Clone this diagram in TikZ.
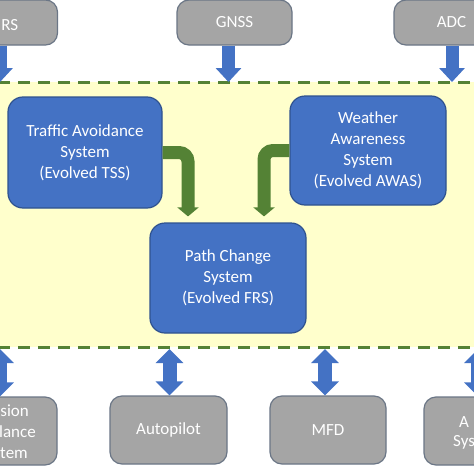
\documentclass[tikz,border=0pt]{standalone}
\usepackage{fontspec}
\setmainfont{Carlito}
\usetikzlibrary{arrows.meta}
\definecolor{boxblue}{HTML}{4472C4}
\definecolor{boxblueb}{HTML}{2F528F}
\definecolor{boxgray}{HTML}{A5A5A5}
\definecolor{boxgrayb}{HTML}{6B7686}
\definecolor{bgyellow}{HTML}{FFFFCC}
\definecolor{dashgreen}{HTML}{548235}
\definecolor{arrgreen}{HTML}{548235}
\begin{document}
\begin{tikzpicture}[x=1pt,y=-1pt,
 txt/.style={text=white,font=\fontsize{17}{21}\selectfont,align=center},
 bluebox/.style={txt,fill=boxblue,draw=boxblueb,line width=1.2pt,rounded corners=15pt,inner sep=0pt},
 graybox/.style={txt,fill=boxgray,draw=boxgrayb,line width=1.2pt,rounded corners=12pt,inner sep=0pt},
 frag/.style={text=white,font=\fontsize{17}{21}\selectfont,inner sep=0pt},
 bus/.style={dashgreen,line width=3pt,dash pattern=on 12pt off 8pt},
 garrow/.style={arrgreen,line width=13pt,rounded corners=9pt,-{Triangle[width=21pt,length=9pt]}},
 barrow/.style={boxblue,line width=13pt,-{Triangle[width=25pt,length=14pt]}},
 darrow/.style={boxblue,line width=14pt,{Triangle[width=27pt,length=14pt]}-{Triangle[width=27pt,length=14pt]}},
]
\useasboundingbox (0,0) rectangle (474,474);
\clip (0,0) rectangle (474,474);
\fill[white] (0,0) rectangle (474,474);
\fill[bgyellow] (0,82) rectangle (474,347);
\draw[bus] (-2,82) -- (478,82);
\draw[bus] (-2,347) -- (478,347);

% top boxes
\node[graybox,minimum width=115pt,minimum height=45pt] (ahrs) at (0,22.5) {};
\node[frag,anchor=east] (ahrst) at (18.5,25) {RS};
\node[graybox,minimum width=115pt,minimum height=45pt] (gnss) at (234.5,22.5) {GNSS};
\node[graybox,minimum width=115pt,minimum height=45pt] (adc) at (451.5,22.5) {ADC};

% main blue boxes
\node[bluebox,minimum width=154pt,minimum height=111pt] (tas) at (85,152.5) {Traffic Avoidance\\System\\(Evolved TSS)};
\node[bluebox,minimum width=156pt,minimum height=109pt] (was) at (368,150.5) {Weather\\Awareness\\System\\(Evolved AWAS)};
\node[bluebox,minimum width=156pt,minimum height=110pt] (pcs) at (228,278) {Path Change\\System\\(Evolved FRS)};

% bottom boxes
\node[graybox,minimum width=117pt,minimum height=68pt] (cas) at (-1.5,431) {};
\node[frag,anchor=east] (cas1) at (29,411) {sion};
\node[frag,anchor=east] (cas2) at (36,432) {lance};
\node[frag,anchor=east] (cas3) at (28,453) {tem};
\node[graybox,minimum width=117pt,minimum height=68pt] (ap) at (168.5,430) {Autopilot};
\node[graybox,minimum width=116pt,minimum height=68pt] (mfd) at (328,430) {MFD};
\node[graybox,minimum width=117pt,minimum height=68pt] (rb) at (482.5,431) {};
\node[frag,anchor=west] (rb1) at (459,422) {A};
\node[frag,anchor=west] (rb2) at (453,442) {Sys};

% bus coordinates
\coordinate (t1) at (0,82);
\coordinate (t2) at (228.5,82);
\coordinate (t3) at (452,82);
\coordinate (b1) at (0,349);
\coordinate (b2) at (169.5,349);
\coordinate (b3) at (325,349);
\coordinate (b4) at (478,349);
\coordinate (g1) at (188,217);
\coordinate (g2) at (264,217);

% input arrows
\draw[barrow] (ahrs.south -| t1) -- (t1);
\draw[barrow] (gnss.south -| t2) -- (t2);
\draw[barrow] (adc.south -| t3) -- (t3);

% bidirectional arrows
\draw[darrow] (b1) -- (cas.north -| b1);
\draw[darrow] (b2) -- (ap.north -| b2);
\draw[darrow] (b3) -- (mfd.north -| b3);
\draw[darrow] (b4) -- (rb.north -| b4);

% green arrows
\draw[garrow,shorten >=6pt] (tas.east) -| (pcs.north -| g1);
\draw[garrow,shorten >=6pt] (was.west) -| (pcs.north -| g2);
\end{tikzpicture}
\end{document}
